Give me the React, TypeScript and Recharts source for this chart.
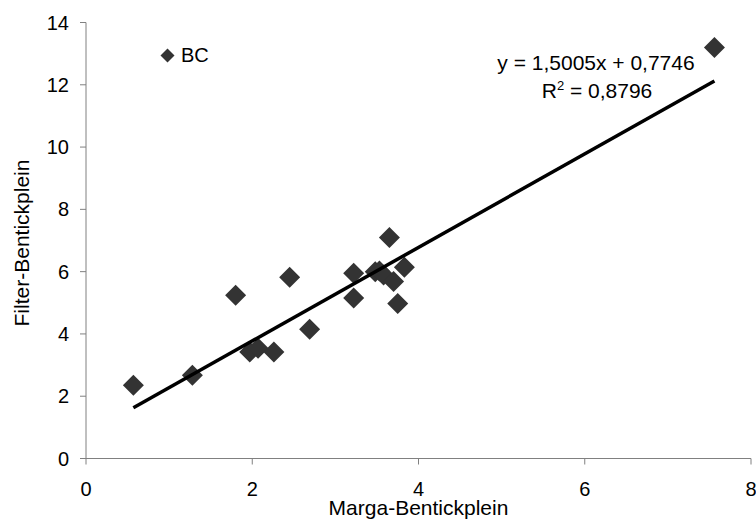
import React from 'react';
import { ScatterChart, Scatter, XAxis, YAxis, Legend, Label } from 'recharts';

const margaValues = [0.57, 1.28, 1.80, 2.45, 1.97, 2.07, 2.26, 2.69, 3.22, 3.22, 3.48, 3.53, 3.58, 3.70, 3.65, 3.83, 3.75, 7.56];
const filterValues = [2.35, 2.67, 5.24, 5.82, 3.42, 3.54, 3.42, 4.15, 5.95, 5.15, 6.0, 6.02, 5.89, 5.68, 7.1, 6.14, 4.98, 13.2];
const trendX = [0.57, 7.56];
const trendY = [1.63, 12.12];
const xTicks = [0, 2, 4, 6, 8];
const yTicks = [0, 2, 4, 6, 8, 10, 12, 14];
const seriesName = 'BC';
const equationText = 'y = 1,5005x + 0,7746';
const r2Value = '0,8796';
const xTitle = 'Marga-Bentickplein';
const yTitle = 'Filter-Bentickplein';

const pointData = margaValues.map((x, i) => ({ x, y: filterValues[i] }));
const trendData = trendX.map((x, i) => ({ x, y: trendY[i] }));

const FONT = '"Liberation Sans", Arial, sans-serif';
const POINT_COLOR = '#333333';
const AXIS_COLOR = '#808080';

const DiamondShape = (props: any) => {
  const { cx, cy } = props;
  if (cx == null || cy == null) return <g />;
  const r = 10.5;
  return (
    <polygon
      points={`${cx},${cy - r} ${cx + r},${cy} ${cx},${cy + r} ${cx - r},${cy}`}
      fill={POINT_COLOR}
    />
  );
};

const NoShape = () => <g />;

const XTitle = (props: any) => {
  const vb = props.viewBox || {};
  return (
    <g>
      <text
        x={vb.x + vb.width / 2}
        y={vb.y + 56.5}
        textAnchor="middle"
        fontFamily={FONT}
        fontSize={21}
        fill="#000"
      >
        {xTitle}
      </text>
      <text x={596} y={70} textAnchor="middle" fontFamily={FONT} fontSize={21} fill="#000">
        {equationText}
      </text>
      <text x={597} y={98} textAnchor="middle" fontFamily={FONT} fontSize={21} fill="#000">
        R
        <tspan fontSize={13} dy={-8}>2</tspan>
        <tspan dy={8}>{` = ${r2Value}`}</tspan>
      </text>
    </g>
  );
};

const YTitle = (props: any) => {
  const vb = props.viewBox || {};
  const x0 = vb.x + 28.5;
  const y0 = vb.y + vb.height / 2 + 2.5;
  return (
    <text
      x={x0}
      y={y0}
      transform={`rotate(-90, ${x0}, ${y0})`}
      textAnchor="middle"
      fontFamily={FONT}
      fontSize={21}
      fill="#000"
    >
      {yTitle}
    </text>
  );
};

const LegendContent = () => (
  <div style={{ display: 'flex', alignItems: 'center', fontFamily: FONT, fontSize: 20, color: '#000' }}>
    <svg width={15} height={15} style={{ display: 'block' }}>
      <polygon points="7.5,0.5 14.5,7.5 7.5,14.5 0.5,7.5" fill={POINT_COLOR} />
    </svg>
    <span style={{ marginLeft: 6, lineHeight: '20px' }}>{seriesName}</span>
  </div>
);

export default function App() {
  return (
    <div style={{ position: 'absolute', left: 0, top: 0, width: 756, height: 519, background: '#fff' }}>
      <ScatterChart
        width={756}
        height={519}
        margin={{ top: 22.5, right: 5, bottom: 20.5, left: 0 }}
      >
        <XAxis
          type="number"
          dataKey="x"
          domain={[0, 8]}
          ticks={xTicks}
          allowDataOverflow
          height={40}
          stroke={AXIS_COLOR}
          tickSize={6}
          tickMargin={17}
          tick={{ fill: '#000', fontSize: 20, fontFamily: FONT }}
          label={<Label content={<XTitle />} />}
        />
        <YAxis
          type="number"
          dataKey="y"
          domain={[0, 14]}
          ticks={yTicks}
          allowDataOverflow
          width={86}
          stroke={AXIS_COLOR}
          tickSize={6}
          tickMargin={11}
          tick={{ fill: '#000', fontSize: 20, fontFamily: FONT }}
          label={<Label content={<YTitle />} />}
        />
        <Legend
          layout="vertical"
          align="center"
          verticalAlign="middle"
          content={<LegendContent />}
          wrapperStyle={{ position: 'absolute', left: 160, top: 45, width: 'auto' }}
        />
        <Scatter
          name={seriesName}
          data={pointData}
          fill={POINT_COLOR}
          shape={<DiamondShape />}
          isAnimationActive={false}
        />
        <Scatter
          name="trend"
          data={trendData}
          line={{ stroke: '#000', strokeWidth: 3.5 }}
          shape={<NoShape />}
          legendType="none"
          isAnimationActive={false}
        />
      </ScatterChart>
    </div>
  );
}
